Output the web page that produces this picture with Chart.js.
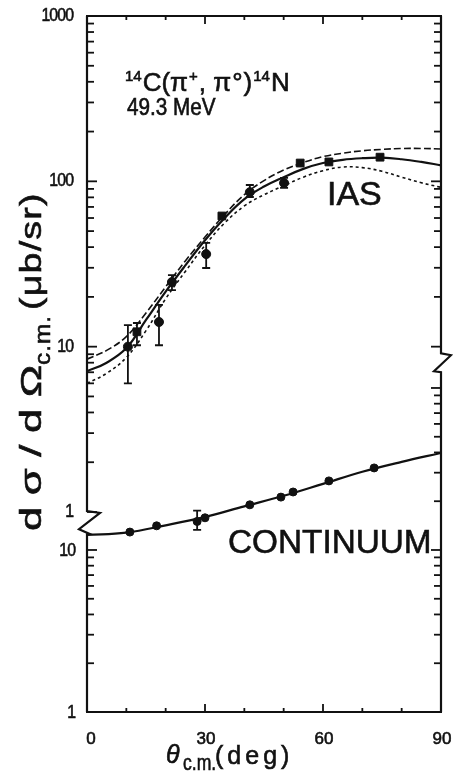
<!DOCTYPE html>
<html>
<head>
<meta charset="utf-8">
<script src="https://cdn.jsdelivr.net/npm/chart.js@4"></script>
<style>
  html, body { margin: 0; padding: 0; background: #fff; }
  canvas { display: block; }
</style>
</head>
<body>
<canvas id="chart" width="453" height="775"></canvas>
<script>
const ink = '#111';

// smooth model curves for the IAS (upper panel), angle in deg
const curveAngles = [0, 5, 10, 15, 20, 25, 30, 35, 40, 45, 50, 55, 60, 65, 70, 75, 80, 85, 90];
const iasSolid  = [7.1, 8.0, 9.8, 14.5, 21.5, 31, 44, 60, 78, 93, 106, 119, 129, 135, 138, 139, 136, 131, 125];
const iasDashed = [8.4, 9.5, 11.5, 16, 23, 33, 46, 63, 83, 101, 117, 130, 141, 148, 153, 156, 158, 158, 157];
const iasDotted = [6.0, 6.9, 8.6, 12.5, 19.5, 28.5, 41, 56, 71, 83, 94, 106, 116, 122, 121, 115, 106, 98, 92];

// IAS data, circles
const iasCircleAngles = [10.4, 18.3, 21.6, 30.3, 41.4, 50.1];
const iasCircleValues = [10.0, 14.1, 24.6, 36.3, 86, 97.7];
const iasCircleLow    = [6.0, 10.2, 22.0, 29.9, 80.4, 91.2];
const iasCircleHigh   = [13.5, 17.9, 27.1, 42.4, 95, 104.8];

// IAS data, squares
const iasSquareAngles = [12.7, 34.3, 54.2, 61.5, 74.5];
const iasSquareValues = [12.3, 61.7, 129, 131, 140];
const iasSquareLow    = [10.2, null, null, null, null];
const iasSquareHigh   = [13.9, null, null, null, null];

// continuum (lower panel)
const contAngles = [0, 10, 20, 30, 40, 50, 60, 70, 80, 90];
const contCurve  = [12.4, 12.8, 14.2, 16.0, 18.6, 21.6, 25.6, 30.4, 35.0, 39.7];
const contPointAngles = [10.9, 17.7, 28.0, 30.0, 41.4, 49.3, 52.4, 61.5, 73.0];
const contPointValues = [12.9, 14.1, 15.0, 15.8, 19.0, 21.2, 22.8, 26.7, 32.1];
const contPointLow    = [null, null, 13.3, null, null, null, null, null, null];
const contPointHigh   = [null, null, 17.5, null, null, null, null, null, null];

const xTickLabels = [0, 30, 60, 90];
const upperTickLabels = [1, 10, 100, 1000];
const lowerTickLabels = [1, 10];

// where the broken axes stop / restart
const leftBreak = { upper: 1, lower: 12.7 };
const rightBreak = { upper: 9, lower: 125 };

const pts = (xs, ys) => xs.map((x, i) => ({ x: x, y: ys[i] }));

function curve(data, axis, dash, width) {
  return {
    data: data, yAxisID: axis, showLine: true, borderColor: ink, borderWidth: width,
    borderDash: dash, pointRadius: 0, tension: 0.4, fill: false
  };
}

function marks(data, axis, style, r, low, high) {
  return {
    data: data, yAxisID: axis, showLine: false, pointStyle: style, pointRadius: r,
    backgroundColor: ink, borderColor: ink, borderWidth: 1, errLow: low, errHigh: high
  };
}

function text(ctx, str, x, y, opts) {
  const size = opts.size || 16;
  const sx = opts.sx || 1;
  const spacing = opts.spacing || 0;
  ctx.save();
  ctx.font = (opts.italic ? 'italic ' : '') + size + 'px "Liberation Sans", Arial, sans-serif';
  ctx.textBaseline = opts.baseline || 'alphabetic';
  ctx.textAlign = 'left';
  ctx.fillStyle = ink;
  ctx.strokeStyle = ink;
  ctx.lineWidth = 0.6;
  ctx.translate(x, y);
  ctx.scale(sx, 1);
  const chars = [...str];
  const widths = chars.map(c => ctx.measureText(c).width);
  const total = widths.reduce((a, b) => a + b, 0) + spacing * (chars.length - 1);
  let cx = opts.align === 'center' ? -total / 2 : opts.align === 'right' ? -total : 0;
  chars.forEach((c, i) => {
    ctx.fillText(c, cx, 0);
    ctx.strokeText(c, cx, 0);
    cx += widths[i] + spacing;
  });
  ctx.restore();
  return total * sx;
}

function logTicks(lo, hi) {
  const out = [];
  for (let e = Math.floor(Math.log10(lo)); e <= Math.ceil(Math.log10(hi)); e++) {
    for (let m = 1; m <= 9; m++) {
      const v = m * Math.pow(10, e);
      if (v >= lo * 0.999 && v <= hi * 1.001) out.push({ v: v, major: m === 1 });
    }
  }
  return out;
}

const errorBars = {
  id: 'errorBars',
  afterDatasetsDraw(chart) {
    const ctx = chart.ctx;
    ctx.save();
    ctx.strokeStyle = ink;
    ctx.lineWidth = 1.8;
    chart.data.datasets.forEach((ds, i) => {
      if (!ds.errLow) return;
      const scale = chart.scales[ds.yAxisID];
      const meta = chart.getDatasetMeta(i);
      ds.errLow.forEach((lo, j) => {
        if (lo == null) return;
        const px = meta.data[j].x;
        const y1 = scale.getPixelForValue(lo);
        const y2 = scale.getPixelForValue(ds.errHigh[j]);
        ctx.beginPath();
        ctx.moveTo(px, y1); ctx.lineTo(px, y2);
        ctx.moveTo(px - 4, y1); ctx.lineTo(px + 4, y1);
        ctx.moveTo(px - 4, y2); ctx.lineTo(px + 4, y2);
        ctx.stroke();
      });
    });
    ctx.restore();
  }
};

const frame = {
  id: 'frame',
  afterDraw(chart) {
    const ctx = chart.ctx;
    const a = chart.chartArea;
    const x = chart.scales.x, y = chart.scales.y, y2 = chart.scales.y2;
    const L = a.left, R = a.right, T = a.top, B = a.bottom;
    const seg = (x1, y1, x2, y2_) => { ctx.beginPath(); ctx.moveTo(x1, y1); ctx.lineTo(x2, y2_); ctx.stroke(); };

    ctx.save();
    ctx.strokeStyle = ink;
    ctx.lineWidth = 2.2;
    ctx.lineJoin = 'miter';
    seg(L - 1, T, R + 1, T);
    seg(L - 1, B, R + 1, B);

    // left axis with break
    const lu = y.getPixelForValue(leftBreak.upper);
    const ll = y2.getPixelForValue(leftBreak.lower);
    ctx.beginPath();
    ctx.moveTo(L, T); ctx.lineTo(L, lu - 1);
    ctx.lineTo(L + 13, lu + 1); ctx.lineTo(L - 8, ll - 4); ctx.lineTo(L + 1, ll);
    ctx.lineTo(L, ll); ctx.lineTo(L, B);
    ctx.stroke();

    // right axis with break
    const ru = y.getPixelForValue(rightBreak.upper);
    const rl = y2.getPixelForValue(rightBreak.lower);
    ctx.beginPath();
    ctx.moveTo(R, T); ctx.lineTo(R, ru - 1);
    ctx.lineTo(R + 10, ru + 1); ctx.lineTo(R - 7, rl - 1); ctx.lineTo(R, rl);
    ctx.lineTo(R, B);
    ctx.stroke();

    ctx.lineWidth = 1.8;
    const yTicks = (scale, lo, hi, px, dir) => {
      logTicks(lo, hi).forEach(t => {
        const py = scale.getPixelForValue(t.v);
        seg(px, py, px + dir * (t.major ? 10 : 7), py);
      });
    };
    yTicks(y, 1, 1000, L, 1);
    yTicks(y2, 1, 10, L, 1);
    yTicks(y, 10, 1000, R, -1);
    yTicks(y2, 1, 100, R, -1);

    for (let v = 10; v < 90; v += 10) {
      const px = x.getPixelForValue(v);
      const len = xTickLabels.includes(v) ? 8 : 4;
      seg(px, B, px, B - len);
      seg(px, T, px, T + len);
    }

    // tick labels
    upperTickLabels.forEach(v => {
      text(ctx, String(v), 74, y.getPixelForValue(v), { size: 18, sx: 0.88, align: 'right', baseline: 'middle', spacing: -1 });
    });
    lowerTickLabels.forEach(v => {
      text(ctx, String(v), 76, y2.getPixelForValue(v) + 1, { size: 18, sx: 0.88, align: 'right', baseline: 'middle', spacing: -1 });
    });
    xTickLabels.forEach(v => {
      const px = x.getPixelForValue(v) + (v === 0 ? 4 : 1);
      text(ctx, String(v), px, 731, { size: 17, align: 'center', baseline: 'top' });
    });

    // reaction label
    let cx = 125;
    const parts = [['14', 1], ['C(π', 0], ['+', 1], [', π', 0], ['°', 0], [')', 0], ['14', 1], ['N', 0]];
    parts.forEach(p => {
      const sup = p[1] === 1;
      cx += text(ctx, p[0], cx, sup ? 81 : 91, { size: sup ? 15 : 26 }) + 1;
    });
    text(ctx, '49.3 MeV', 127, 115, { size: 23, sx: 0.9 });

    text(ctx, 'IAS', 327, 205, { size: 34 });
    text(ctx, 'CONTINUUM', 228, 553, { size: 34, sx: 0.98 });

    // x title
    text(ctx, 'θ', 166, 763, { size: 25, italic: true });
    text(ctx, 'c.m.', 183, 770, { size: 22, sx: 0.8 });
    text(ctx, '(deg)', 215, 764, { size: 25, spacing: 4 });

    // y title, rotated
    ctx.save();
    ctx.translate(41, 531);
    ctx.rotate(-Math.PI / 2);
    text(ctx, 'dσ/dΩ', 0, 0, { size: 30, sx: 1.45, spacing: 8 });
    text(ctx, 'c.m.', 166, 9, { size: 22, sx: 1.1, spacing: 1 });
    text(ctx, '(μb/sr)', 221, 0, { size: 30, sx: 1.25, spacing: 1 });
    ctx.restore();

    ctx.restore();
  }
};

const chart = new Chart(document.getElementById('chart').getContext('2d'), {
  type: 'scatter',
  data: {
    datasets: [
      curve(pts(curveAngles, iasSolid), 'y', [], 2.2),
      curve(pts(curveAngles, iasDashed), 'y', [7, 3], 1.6),
      curve(pts(curveAngles, iasDotted), 'y', [3, 3], 1.6),
      curve(pts(contAngles, contCurve), 'y2', [], 2.2),
      marks(pts(iasCircleAngles, iasCircleValues), 'y', 'circle', 4.5, iasCircleLow, iasCircleHigh),
      marks(pts(iasSquareAngles, iasSquareValues), 'y', 'rect', 5.5, iasSquareLow, iasSquareHigh),
      marks(pts(contPointAngles, contPointValues), 'y2', 'circle', 4, contPointLow, contPointHigh)
    ]
  },
  options: {
    responsive: false,
    animation: false,
    devicePixelRatio: 1,
    layout: { padding: { left: 87, right: 12, top: 16, bottom: 63 } },
    plugins: { legend: { display: false }, tooltip: { enabled: false } },
    scales: {
      x: { type: 'linear', min: 0, max: 90, display: false },
      // upper panel: 1000 at the top, 1 at ~71% down
      y: { type: 'logarithmic', min: 0.0617, max: 1000, display: false },
      // lower panel: 1 at the bottom, 162 px per decade
      y2: { type: 'logarithmic', min: 1, max: 19770, display: false }
    }
  },
  plugins: [errorBars, frame]
});
</script>
</body>
</html>
